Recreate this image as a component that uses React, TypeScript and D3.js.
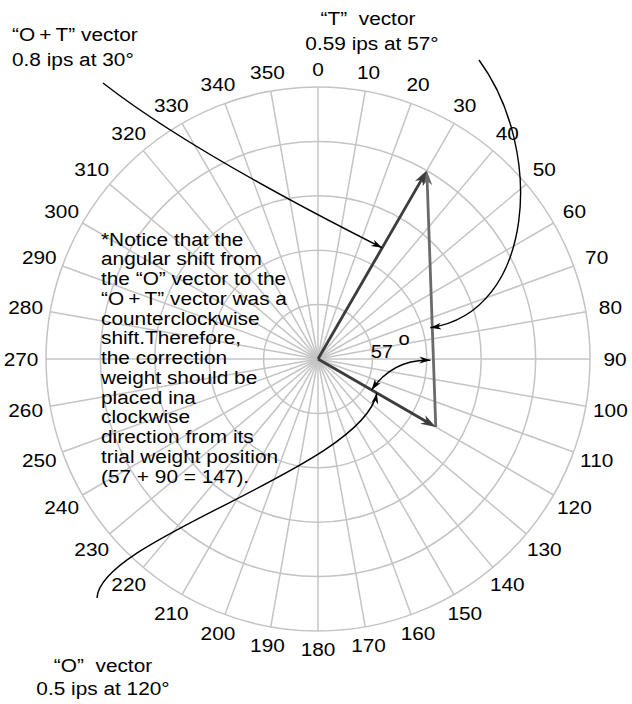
import React from 'react';
import * as d3 from 'd3';

const tickAngles = [0, 10, 20, 30, 40, 50, 60, 70, 80, 90, 100, 110, 120, 130, 140, 150, 160, 170, 180, 190, 200, 210, 220, 230, 240, 250, 260, 270, 280, 290, 300, 310, 320, 330, 340, 350];
const ringValues = [0.2, 0.4, 0.6, 0.8, 1.0];
const vectorNames = ['O', 'O+T'];
const vectorMagnitudes = [0.5, 0.8];
const vectorAngles = [120, 30];
const otLabel = ['\u201cO\u2009+\u2009T\u201d vector', '0.8 ips at 30\u00b0'];
const tLabel = ['\u201cT\u201d\u00a0 vector', '0.59 ips at 57\u00b0'];
const oLabel = ['\u201cO\u201d\u00a0 vector', '0.5 ips at 120\u00b0'];
const angleLabel = '57';
const noteLines = [
  '*Notice that the',
  'angular shift from',
  'the \u201cO\u201d vector to the',
  '\u201cO\u2009+\u2009T\u201d vector was a',
  'counterclockwise',
  'shift.Therefore,',
  'the correction',
  'weight should be',
  'placed ina',
  'clockwise',
  'direction from its',
  'trial weight position',
  '(57 + 90 = 147).',
];

const W = 632, H = 704, CX = 318, CY = 359, R = 272;
const FONT = '"Liberation Sans", Arial, Helvetica, sans-serif';
const FS = 18.6;
const SX = 1.12;

type P = [number, number];
const lerp = (a: P, b: P, t: number): P => [a[0] + (b[0] - a[0]) * t, a[1] + (b[1] - a[1]) * t];

function arrowHead(tip: P, from: P, L: number, Wd: number): string {
  const dx = tip[0] - from[0], dy = tip[1] - from[1];
  const len = Math.hypot(dx, dy) || 1;
  const ux = dx / len, uy = dy / len;
  const nx = -uy, ny = ux;
  const bx = tip[0] - L * ux, by = tip[1] - L * uy;
  const mx = tip[0] - 0.7 * L * ux, my = tip[1] - 0.7 * L * uy;
  return `M${tip[0]},${tip[1]}L${bx + nx * Wd / 2},${by + ny * Wd / 2}L${mx},${my}L${bx - nx * Wd / 2},${by - ny * Wd / 2}Z`;
}

export default function App() {
  const r = d3.scaleLinear().domain([0, 1]).range([0, R]);
  const rad = (deg: number) => (deg * Math.PI) / 180;
  const pt = (deg: number, v: number): P => [CX + r(v) * Math.sin(rad(deg)), CY - r(v) * Math.cos(rad(deg))];
  const center: P = [CX, CY];

  const tips = vectorNames.map((_, i) => pt(vectorAngles[i], vectorMagnitudes[i]));
  const oTip = tips[0];
  const otTip = tips[1];

  const grid = '#c4c4c4';

  const vecL = 15, vecW = 10;
  const shorten = (a: P, b: P, d: number): P => {
    const len = Math.hypot(b[0] - a[0], b[1] - a[1]);
    return lerp(a, b, (len - d) / len);
  };

  // leader 1 (O+T)
  const l1Tip = lerp(center, otTip, 0.59);
  const l1Start: P = [103, 83];
  const l1Ctrl: P = [190, 151];
  const p1 = d3.path();
  p1.moveTo(l1Start[0], l1Start[1]);
  p1.quadraticCurveTo(l1Ctrl[0], l1Ctrl[1], l1Tip[0], l1Tip[1]);

  // leader 2 (T)
  const l2TipBase = lerp(oTip, otTip, 0.387);
  const l2Tip: P = [l2TipBase[0] - 2, l2TipBase[1]];
  const l2Start: P = [479, 60];
  const l2C1: P = [545, 150];
  const l2C2: P = [535, 312];
  const p2 = d3.path();
  p2.moveTo(l2Start[0], l2Start[1]);
  p2.bezierCurveTo(l2C1[0], l2C1[1], l2C2[0], l2C2[1], l2Tip[0], l2Tip[1]);

  // 57 arc
  const aRightBase = lerp(oTip, otTip, 0.26);
  const aRight: P = [aRightBase[0] - 3, aRightBase[1]];
  const aLeft = lerp(center, oTip, 0.455);
  const aCtrl: P = [393, 359];
  const p3 = d3.path();
  p3.moveTo(aLeft[0], aLeft[1]);
  p3.quadraticCurveTo(aCtrl[0], aCtrl[1], aRight[0], aRight[1]);

  // leader 4 (O)
  const l4Tip = lerp(center, oTip, 0.5);
  const l4Start: P = [97, 598];
  const l4C1: P = [100, 538];
  const l4C2: P = [362, 468];
  const p4 = d3.path();
  p4.moveTo(l4Start[0], l4Start[1]);
  p4.bezierCurveTo(l4C1[0], l4C1[1], l4C2[0], l4C2[1], l4Tip[0], l4Tip[1]);

  const txt = (x: number, y: number, s: string, anchor: string = 'start', key?: any, size: number = FS) => (
    <text key={key} transform={`translate(${x},${y}) scale(${SX},1)`} textAnchor={anchor} fontSize={size} fontFamily={FONT} fill="#000">
      {s}
    </text>
  );

  return (
    <svg width={W} height={H} style={{ position: 'absolute', left: 0, top: 0, background: '#fff' }}>
      <rect x={0} y={0} width={W} height={H} fill="#fff" />
      <g stroke={grid} strokeWidth={1.5} fill="none">
        {ringValues.map((v) => (
          <circle key={v} cx={CX} cy={CY} r={r(v)} />
        ))}
        {tickAngles.map((a) => {
          const e = pt(a, 1);
          return <line key={a} x1={CX} y1={CY} x2={e[0]} y2={e[1]} />;
        })}
      </g>
      {tickAngles.map((a) => {
        const rl = 290 + 7 * Math.abs(Math.sin(rad(a)));
        const x = CX + rl * Math.sin(rad(a));
        const y = CY - rl * Math.cos(rad(a));
        return (
          <text key={a} transform={`translate(${x},${y}) scale(${SX},1)`} textAnchor="middle" dy="0.36em" fontSize={FS} fontFamily={FONT} fill="#000">
            {String(a)}
          </text>
        );
      })}
      {(() => {
        const otEnd = shorten(center, otTip, vecL * 0.6);
        const oEnd = shorten(center, oTip, vecL * 0.6);
        const tEnd = shorten(oTip, otTip, vecL * 0.6);
        return (
          <g>
            <line x1={oTip[0]} y1={oTip[1]} x2={tEnd[0]} y2={tEnd[1]} stroke="#6a6a6a" strokeWidth={2.8} />
            <path d={arrowHead(otTip, oTip, vecL, vecW)} fill="#6a6a6a" />
            <line x1={CX} y1={CY} x2={otEnd[0]} y2={otEnd[1]} stroke="#3c3c3c" strokeWidth={2.8} />
            <path d={arrowHead(otTip, center, vecL, vecW)} fill="#3c3c3c" />
            <line x1={CX} y1={CY} x2={oEnd[0]} y2={oEnd[1]} stroke="#3c3c3c" strokeWidth={2.8} />
            <path d={arrowHead(oTip, center, vecL, vecW)} fill="#3c3c3c" />
          </g>
        );
      })()}
      <g fill="none" stroke="#000" strokeWidth={1.4}>
        <path d={p1.toString()} />
        <path d={p2.toString()} />
        <path d={p3.toString()} />
        <path d={p4.toString()} />
      </g>
      <g fill="#000">
        <path d={arrowHead(l1Tip, l1Ctrl, 11, 7)} />
        <path d={arrowHead(l2Tip, l2C2, 11, 7)} />
        <path d={arrowHead(aRight, aCtrl, 11, 7)} />
        <path d={arrowHead(aLeft, aCtrl, 11, 7)} />
        <path d={arrowHead(l4Tip, l4C2, 11, 7)} />
      </g>
      {txt(382, 358, angleLabel, 'middle', 'al', 17.5)}
      {txt(404, 344.5, 'o', 'middle', 'ao', 18)}
      {txt(12, 41, otLabel[0], 'start', 'ot0')}
      {txt(12, 66, otLabel[1], 'start', 'ot1')}
      {txt(368, 25, tLabel[0], 'middle', 't0')}
      {txt(372, 50, tLabel[1], 'middle', 't1')}
      {txt(103, 672, oLabel[0], 'middle', 'o0')}
      {txt(103, 695, oLabel[1], 'middle', 'o1')}
      <text transform={`translate(101,245.7) scale(${SX},1)`} fontSize={FS} fontFamily={FONT} fill="#000">
        {noteLines.map((s, i) => (
          <tspan key={i} x={0} y={i * 19.75}>
            {s}
          </tspan>
        ))}
      </text>
    </svg>
  );
}
